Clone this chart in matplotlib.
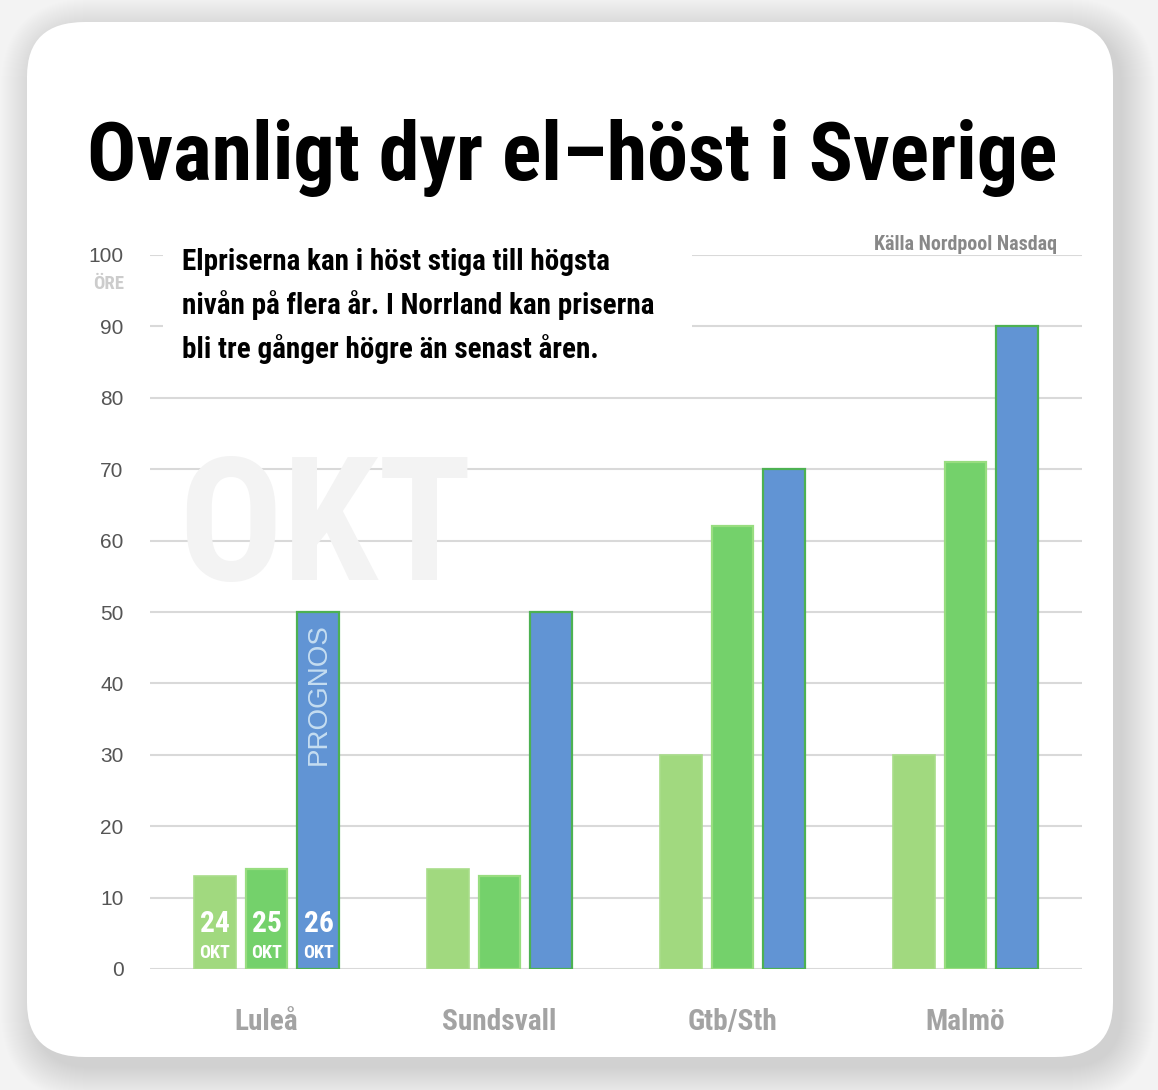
import matplotlib
matplotlib.use("Agg")
import matplotlib.pyplot as plt
from matplotlib.patches import FancyBboxPatch, Rectangle
from matplotlib import font_manager
from matplotlib.transforms import blended_transform_factory
import numpy as np
import glob
import os

# data
cities = ["Luleå", "Sundsvall", "Gtb/Sth", "Malmö"]
okt24 = [13, 14, 30, 30]
okt25 = [14, 13, 62, 71]
okt26 = [50, 50, 70, 90]  # prognos
yticks = list(range(0, 101, 10))

title = "Ovanligt dyr el–höst i Sverige"
subtitle = ["Elpriserna kan i höst stiga till högsta",
            "nivån på flera år. I Norrland kan priserna",
            "bli tre gånger högre än senast åren."]
source = "Källa Nordpool Nasdaq"

# look for a condensed bold face (the original uses DIN Condensed)
files = [f.fname for f in font_manager.fontManager.ttflist]
files += glob.glob("/usr/share/fonts/**/*.[ot]tf", recursive=True)
cands = ["NotoSans-ExtraCondensedBold", "NotoSans-CondensedBold", "RobotoCondensed-Bold",
         "LiberationSansNarrow-Bold", "DejaVuSansCondensed-Bold", "OpenSans-CondBold"]
cond_file = None
for c in cands:
    hits = [f for f in files if os.path.basename(f).split(".")[0] == c]
    if hits:
        cond_file = hits[0]
        break
if cond_file:
    COND = dict(fontproperties=font_manager.FontProperties(fname=cond_file))
else:
    COND = dict(fontfamily="DejaVu Sans", fontweight="bold", fontstretch="condensed")
PLAIN = "Liberation Sans"

W, H = 1158, 1090
fig = plt.figure(figsize=(W / 100, H / 100), dpi=100)
fig.patch.set_facecolor("#f3f3f3")
rend = fig.canvas.get_renderer()


def fx(x):
    return x / W


def fy(y):
    return 1 - y / H


def fit(t, width):
    # scale the font so the text gets the reference width in pixels
    w = t.get_window_extent(renderer=rend).width
    t.set_fontsize(t.get_fontsize() * width / w)
    return t


# card with soft shadow
for s in range(34, 0, -1):
    fig.patches.append(FancyBboxPatch(
        (fx(27 + 8 - s), fy(1057 + 10 + s)), fx(1086 + 2 * s), (1035 + 2 * s) / H,
        boxstyle="round,pad=0,rounding_size=%.3f" % ((55 + s) / H), transform=fig.transFigure,
        facecolor="#000000", edgecolor="none", alpha=0.0055, zorder=0))
fig.patches.append(FancyBboxPatch(
    (fx(27), fy(1057)), fx(1086), 1035 / H,
    boxstyle="round,pad=0,rounding_size=0.05", transform=fig.transFigure,
    facecolor="white", edgecolor="none", zorder=1))

ax = fig.add_axes([fx(150), fy(969), fx(932), (969 - 255) / H])
ax.set_facecolor("none")
ax.set_zorder(2)

x = np.arange(len(cities))
off = 0.223
bw = 0.18
ax.bar(x - off, okt24, bw, color="#a1d97f", edgecolor="#a9dd8a", linewidth=1.2, zorder=3)
ax.bar(x, okt25, bw, color="#74d16b", edgecolor="#98dd80", linewidth=1.6, zorder=3)
ax.bar(x + off, okt26, bw, color="#6194d4", edgecolor="#4db152", linewidth=1.6, zorder=3)

for v in yticks:
    ax.axhline(v, color="#d9d9d9", linewidth=1.5, zorder=1)

# white area behind the intro text
ax.add_patch(Rectangle((fx(163), fy(372)), fx(529), 135 / H, transform=fig.transFigure,
                       facecolor="white", edgecolor="none", zorder=1.2, clip_on=False))

ax.set_xlim(-0.5, 3.5)
ax.set_ylim(0, 100)

wm = ax.text(-0.38, 54.5, "OKT", fontsize=190, color="#f3f3f3", ha="left",
             va="baseline", zorder=1.5, **COND)
fit(wm, 294)

ax.set_yticks(yticks)
ax.set_yticklabels([str(v) for v in yticks], fontsize=15, color="#555555", fontfamily=PLAIN)
ax.tick_params(axis="y", length=0, pad=19)
ax.set_xticks([])
for s in ax.spines.values():
    s.set_visible(False)

# category names under the groups
tr = blended_transform_factory(ax.transData, fig.transFigure)
cat = [ax.text(xi, fy(1030), c, transform=tr, ha="center", va="baseline",
               color="#a3a3a3", fontsize=24, **COND) for xi, c in zip(x, cities)]
fit(cat[1], 115)
for t in cat:
    t.set_fontsize(cat[1].get_fontsize())

# labels inside Luleå bars
for xi, lab in zip([-off, 0, off], ["24", "25", "26"]):
    a = ax.text(xi, 5.2, lab, ha="center", va="baseline", color="white", fontsize=24,
                zorder=4, **COND)
    fit(a, 30)
    b = ax.text(xi, 1.55, "OKT", ha="center", va="baseline", color="white", fontsize=15,
                zorder=4, **COND)
    fit(b, 31)
ax.text(off, 38.5, "PROGNOS", rotation=90, ha="center", va="center", color="#c5ddf1",
        fontsize=20, fontfamily=PLAIN, zorder=4)

t = fig.text(fx(572), fy(180), title, ha="center", va="baseline", fontsize=72,
             color="black", zorder=5, **COND)
fit(t, 970)

sub = [fig.text(fx(182), fy(270 + 44 * i), line, ha="left", va="baseline", fontsize=22,
                color="black", zorder=5, **COND) for i, line in enumerate(subtitle)]
fit(sub[1], 471)
for s in sub:
    s.set_fontsize(sub[1].get_fontsize())

src = fig.text(fx(1057), fy(250), source, ha="right", va="baseline", fontsize=14,
               color="#888888", zorder=5, **COND)
fit(src, 184)
ore = fig.text(fx(124), fy(289), "ÖRE", ha="right", va="baseline", fontsize=14,
               color="#cccccc", zorder=5, **COND)
fit(ore, 31)

fig.savefig("out.png", dpi=100, facecolor=fig.get_facecolor())
